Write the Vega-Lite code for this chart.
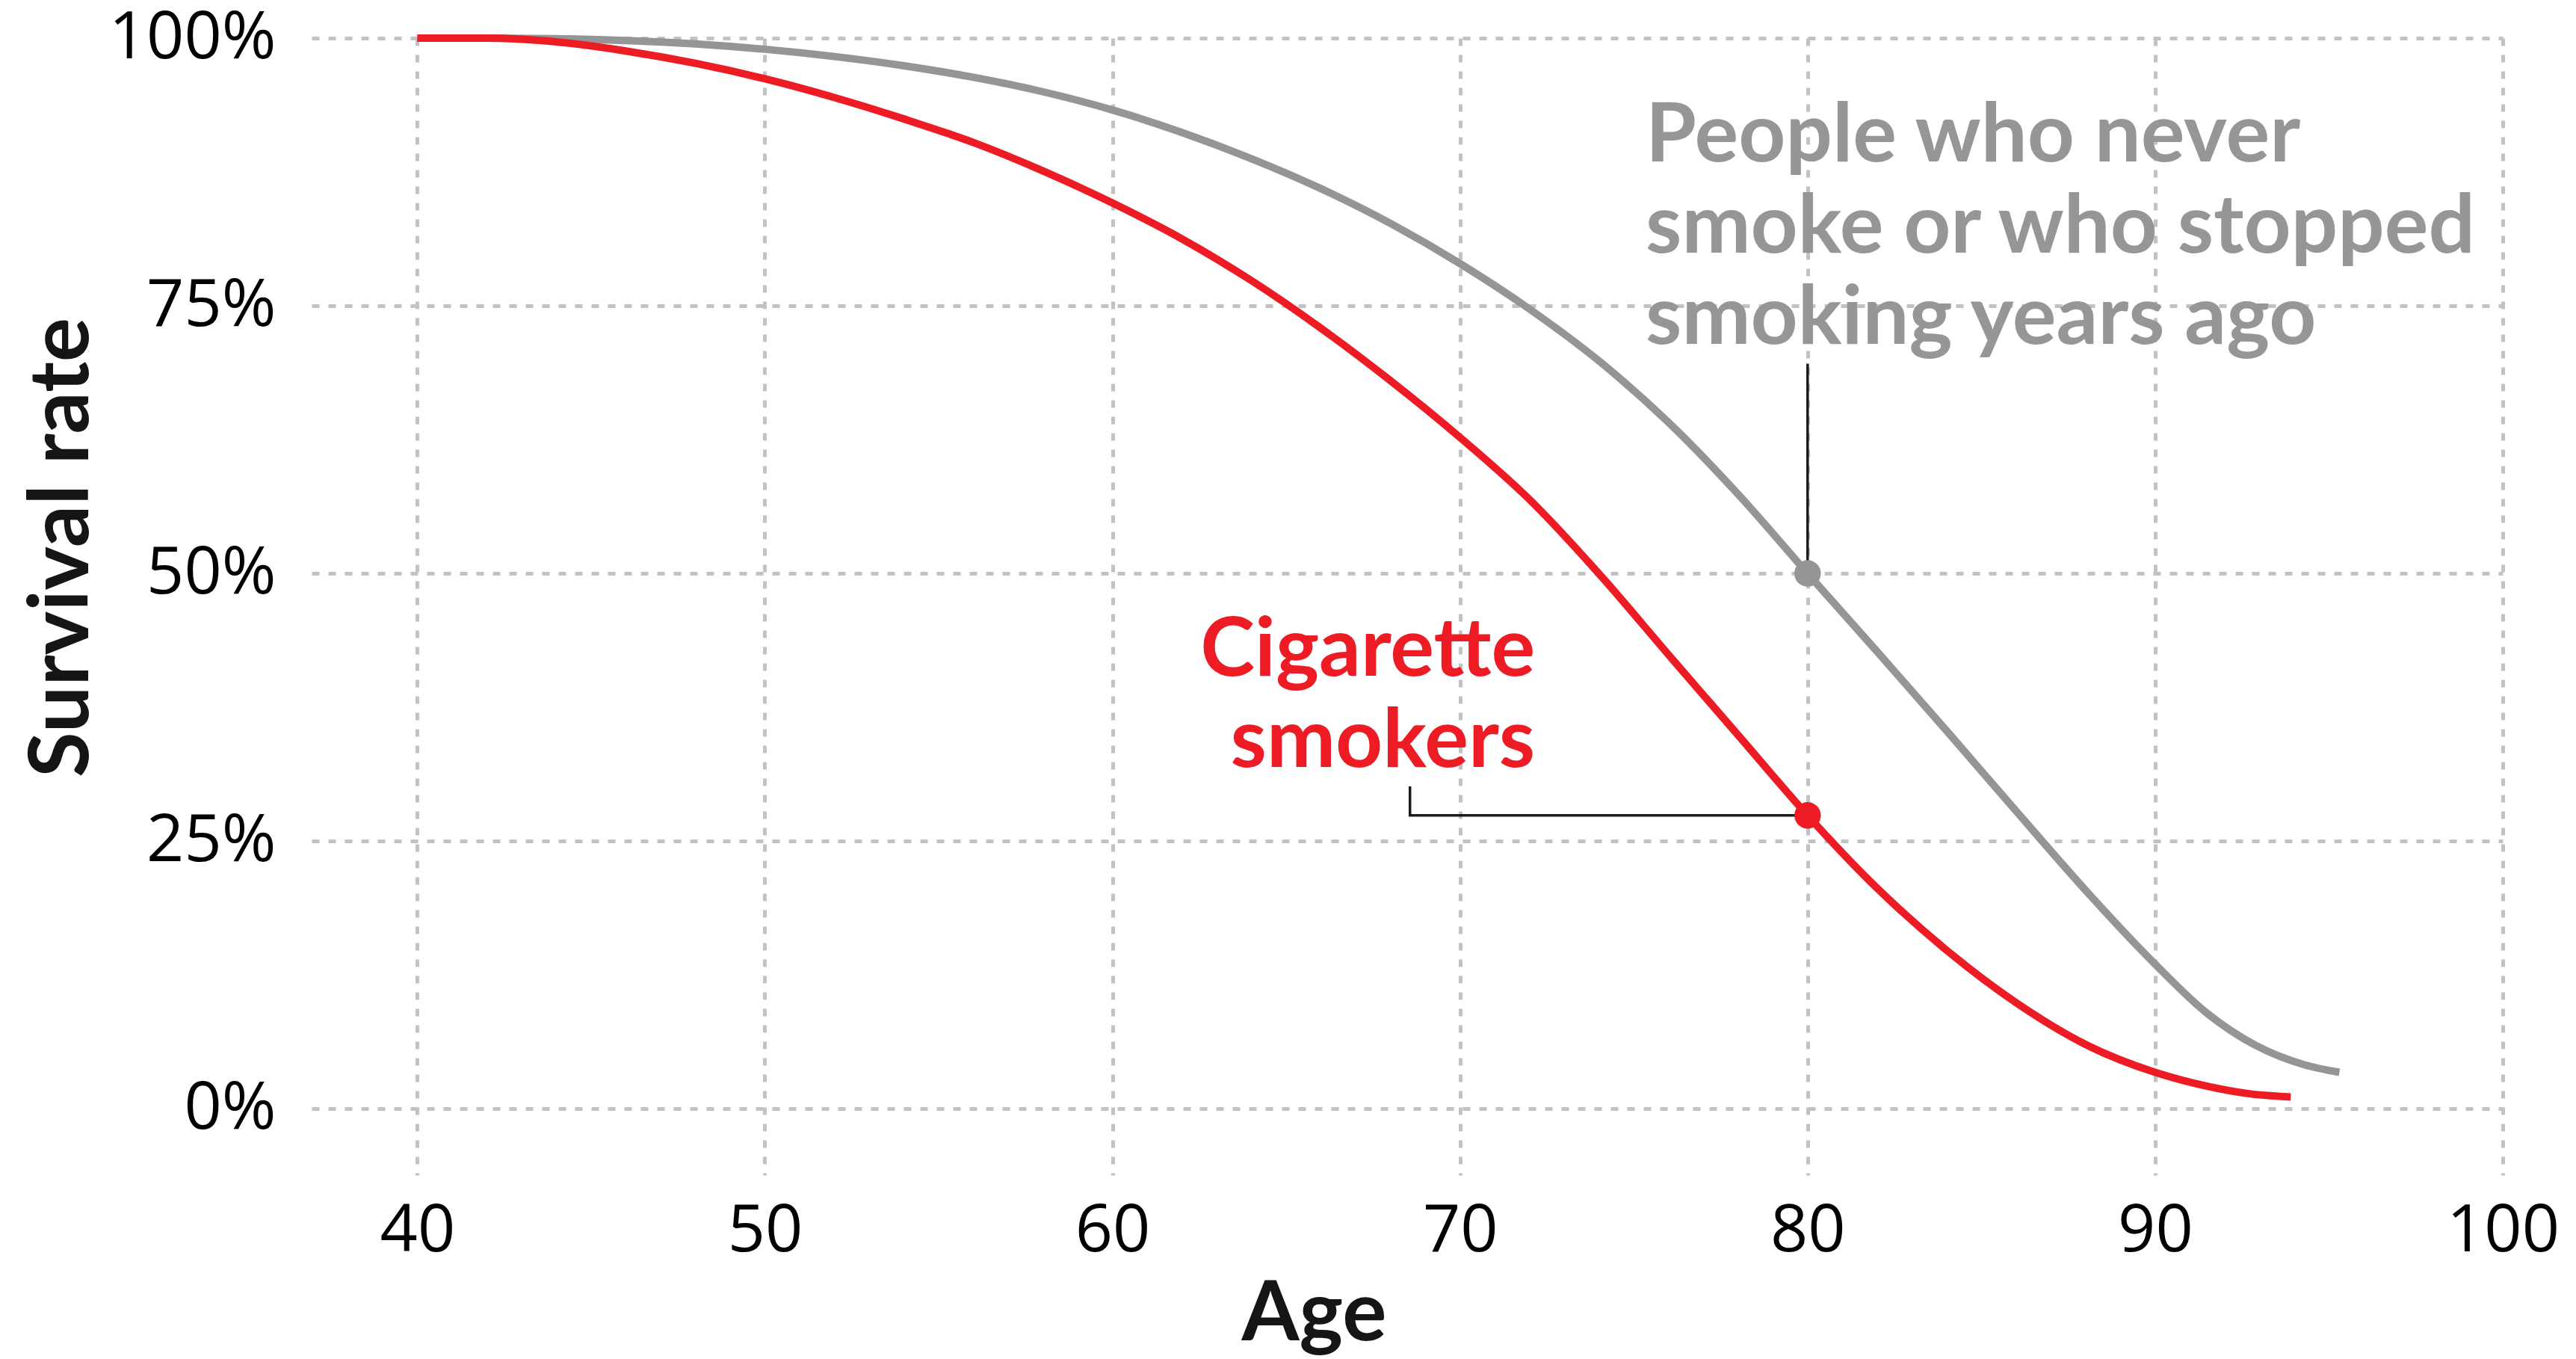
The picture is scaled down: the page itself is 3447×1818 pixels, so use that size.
{
  "$schema": "https://vega.github.io/schema/vega-lite/v6.json",
  "width": 2932,
  "height": 1521,
  "autosize": {"type": "none"},
  "padding": {"left": 417, "top": 51, "right": 98, "bottom": 246},
  "background": "white",
  "config": {
    "view": {"stroke": null},
    "axis": {
      "domain": false,
      "ticks": false,
      "tickSize": 0,
      "grid": true,
      "gridColor": "#c1c2c4",
      "gridWidth": 5,
      "gridDash": [10, 12],
      "labelFont": "Open Sans",
      "labelFontSize": 88,
      "labelColor": "#000000",
      "labelLimit": 600,
      "titleFont": "Lato",
      "titleFontSize": 111,
      "titleFontWeight": "bold",
      "titleColor": "#131516",
      "titleLimit": 2000
    }
  },
  "datasets": {
    "curves": [
      {"series": "never", "age": 40, "pct": 100},
      {"series": "never", "age": 42, "pct": 100},
      {"series": "never", "age": 44, "pct": 99.95},
      {"series": "never", "age": 46, "pct": 99.78},
      {"series": "never", "age": 48, "pct": 99.46},
      {"series": "never", "age": 50, "pct": 98.96},
      {"series": "never", "age": 52, "pct": 98.28},
      {"series": "never", "age": 54, "pct": 97.42},
      {"series": "never", "age": 56, "pct": 96.34},
      {"series": "never", "age": 58, "pct": 94.99},
      {"series": "never", "age": 60, "pct": 93.29},
      {"series": "never", "age": 62, "pct": 91.19},
      {"series": "never", "age": 64, "pct": 88.74},
      {"series": "never", "age": 66, "pct": 85.94},
      {"series": "never", "age": 68, "pct": 82.69},
      {"series": "never", "age": 70, "pct": 78.94},
      {"series": "never", "age": 72, "pct": 74.69},
      {"series": "never", "age": 74, "pct": 69.84},
      {"series": "never", "age": 76, "pct": 64.1},
      {"series": "never", "age": 78, "pct": 57.4},
      {"series": "never", "age": 80, "pct": 50},
      {"series": "never", "age": 82, "pct": 42.7},
      {"series": "never", "age": 84, "pct": 35.3},
      {"series": "never", "age": 86, "pct": 27.8},
      {"series": "never", "age": 88, "pct": 20.4},
      {"series": "never", "age": 90, "pct": 13.5},
      {"series": "never", "age": 91.5, "pct": 8.9},
      {"series": "never", "age": 92.9, "pct": 5.9},
      {"series": "never", "age": 94.3, "pct": 4.1},
      {"series": "never", "age": 95.3, "pct": 3.4},
      {"series": "smoker", "age": 40, "pct": 100},
      {"series": "smoker", "age": 42, "pct": 100},
      {"series": "smoker", "age": 44, "pct": 99.65},
      {"series": "smoker", "age": 46, "pct": 98.8},
      {"series": "smoker", "age": 48, "pct": 97.65},
      {"series": "smoker", "age": 50, "pct": 96.2},
      {"series": "smoker", "age": 52, "pct": 94.45},
      {"series": "smoker", "age": 54, "pct": 92.45},
      {"series": "smoker", "age": 56, "pct": 90.25},
      {"series": "smoker", "age": 58, "pct": 87.6},
      {"series": "smoker", "age": 60, "pct": 84.6},
      {"series": "smoker", "age": 62, "pct": 81.25},
      {"series": "smoker", "age": 64, "pct": 77.35},
      {"series": "smoker", "age": 66, "pct": 72.9},
      {"series": "smoker", "age": 68, "pct": 68.0},
      {"series": "smoker", "age": 70, "pct": 62.7},
      {"series": "smoker", "age": 72, "pct": 56.9},
      {"series": "smoker", "age": 74.1, "pct": 49.6},
      {"series": "smoker", "age": 76, "pct": 42.4},
      {"series": "smoker", "age": 78, "pct": 34.9},
      {"series": "smoker", "age": 80, "pct": 27.4},
      {"series": "smoker", "age": 82, "pct": 20.6},
      {"series": "smoker", "age": 84, "pct": 14.8},
      {"series": "smoker", "age": 86, "pct": 9.9},
      {"series": "smoker", "age": 88, "pct": 6.0},
      {"series": "smoker", "age": 90, "pct": 3.4},
      {"series": "smoker", "age": 91.5, "pct": 2.1},
      {"series": "smoker", "age": 92.7, "pct": 1.4},
      {"series": "smoker", "age": 93.9, "pct": 1.1}
    ],
    "connectors": [
      {"seg": "never", "ord": 1, "age": 80, "pct": 69.6},
      {"seg": "never", "ord": 2, "age": 80, "pct": 50},
      {"seg": "smoker", "ord": 1, "age": 68.56, "pct": 30.1},
      {"seg": "smoker", "ord": 2, "age": 68.56, "pct": 27.4},
      {"seg": "smoker", "ord": 3, "age": 80, "pct": 27.4}
    ],
    "points": [
      {"series": "never", "age": 80, "pct": 50},
      {"series": "smoker", "age": 80, "pct": 27.4}
    ],
    "neverLabel": [
      {"age": 75.34, "pct": 88.49, "label": "People who never\nsmoke or who stopped\nsmoking years ago"}
    ],
    "smokerLabel": [
      {"age": 72.16, "pct": 40.44, "label": "Cigarette\nsmokers"}
    ]
  },
  "encoding": {
    "x": {
      "field": "age",
      "type": "quantitative",
      "scale": {"domain": [36.96, 100], "nice": false, "zero": false},
      "axis": {
        "values": [40, 50, 60, 70, 80, 90, 100],
        "title": "Age",
        "labelBaseline": "alphabetic",
        "labelPadding": 101,
        "labelAlign": "center",
        "titleX": 1341,
        "titleY": 220,
        "titleBaseline": "alphabetic",
        "titleAlign": "center"
      }
    },
    "y": {
      "field": "pct",
      "type": "quantitative",
      "scale": {"domain": [-6.2, 100], "nice": false, "zero": false},
      "axis": {
        "values": [0, 25, 50, 75, 100],
        "labelExpr": "datum.value + '%'",
        "title": "Survival rate",
        "labelPadding": 48,
        "labelAlign": "right",
        "labelBaseline": "middle",
        "titleAngle": 270,
        "titleX": -300,
        "titleY": 681,
        "titleBaseline": "alphabetic",
        "titleAlign": "center"
      }
    }
  },
  "layer": [
    {
      "data": {"name": "curves"},
      "mark": {"type": "line", "strokeWidth": 10, "interpolate": "monotone", "strokeCap": "butt"},
      "encoding": {
        "color": {
          "field": "series",
          "type": "nominal",
          "scale": {"domain": ["never", "smoker"], "range": ["#949594", "#ED1C24"]},
          "legend": null
        }
      }
    },
    {
      "data": {"name": "connectors"},
      "mark": {"type": "line", "strokeWidth": 3.5, "color": "#1b1b1b", "interpolate": "linear"},
      "encoding": {
        "detail": {"field": "seg", "type": "nominal"},
        "order": {"field": "ord", "type": "quantitative"}
      }
    },
    {
      "data": {"name": "points"},
      "mark": {"type": "circle", "size": 1257, "opacity": 1},
      "encoding": {
        "color": {
          "field": "series",
          "type": "nominal",
          "scale": {"domain": ["never", "smoker"], "range": ["#949594", "#ED1C24"]},
          "legend": null
        }
      }
    },
    {
      "data": {"name": "neverLabel"},
      "mark": {
        "type": "text",
        "font": "Lato",
        "fontWeight": "bold",
        "fontSize": 110,
        "lineHeight": 122,
        "lineBreak": "\n",
        "align": "left",
        "baseline": "alphabetic",
        "color": "#959695"
      },
      "encoding": {"text": {"field": "label", "type": "nominal"}}
    },
    {
      "data": {"name": "smokerLabel"},
      "mark": {
        "type": "text",
        "font": "Lato",
        "fontWeight": "bold",
        "fontSize": 110,
        "lineHeight": 122,
        "lineBreak": "\n",
        "align": "right",
        "baseline": "alphabetic",
        "color": "#ED1C24"
      },
      "encoding": {"text": {"field": "label", "type": "nominal"}}
    }
  ]
}
